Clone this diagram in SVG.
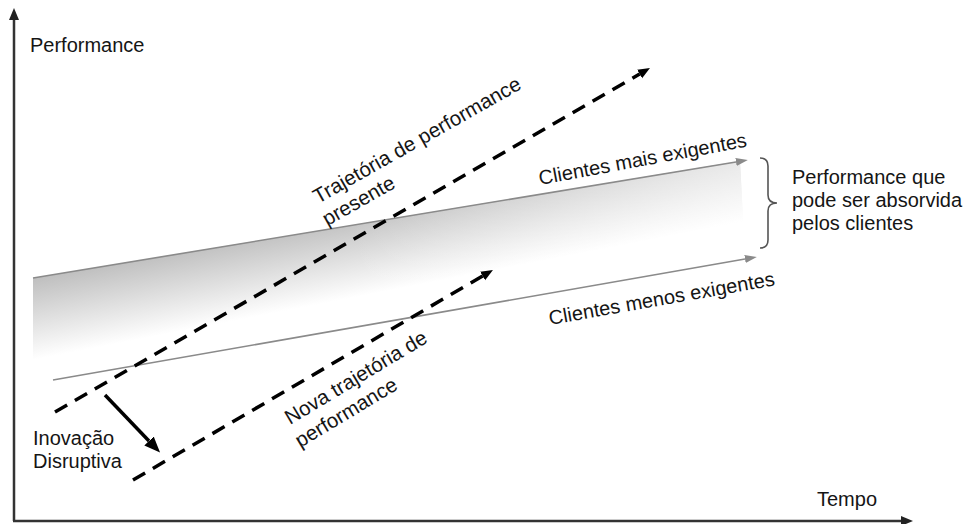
<svg xmlns="http://www.w3.org/2000/svg" width="971" height="524" viewBox="0 0 971 524">
<style>
text{font-family:"Liberation Sans",Arial,sans-serif;font-size:20px;fill:#151515}
.axis{stroke:#333;stroke-width:2.5;fill:none}
.gray{stroke:#8a8a8a;stroke-width:1.6;fill:none}
.dash{stroke:#000;stroke-width:3.5;stroke-dasharray:14 9;fill:none}
</style>
<defs>
<linearGradient id="band" gradientUnits="userSpaceOnUse" x1="33" y1="280" x2="48" y2="357">
<stop offset="0" stop-color="#c0c0c0"/>
<stop offset="1" stop-color="#ffffff"/>
</linearGradient>
<linearGradient id="fade" gradientUnits="userSpaceOnUse" x1="350" y1="0" x2="745" y2="0">
<stop offset="0" stop-color="#fff" stop-opacity="0"/>
<stop offset="1" stop-color="#fff" stop-opacity="0.55"/>
</linearGradient>
<marker id="ax" markerUnits="userSpaceOnUse" markerWidth="14" markerHeight="12" refX="0" refY="5" orient="auto"><path d="M0,0 L12,5 L0,10 z" fill="#222"/></marker>
<marker id="ga" markerUnits="userSpaceOnUse" markerWidth="14" markerHeight="10" refX="0" refY="4" orient="auto"><path d="M0,0 L12,4 L0,8 z" fill="#8a8a8a"/></marker>
<marker id="da" markerUnits="userSpaceOnUse" markerWidth="14" markerHeight="12" refX="0" refY="5" orient="auto"><path d="M0,0 L12,5 L0,10 z" fill="#000"/></marker>
<marker id="ba" markerUnits="userSpaceOnUse" markerWidth="18" markerHeight="14" refX="0" refY="6.5" orient="auto"><path d="M0,0 L16,6.5 L0,13 z" fill="#000"/></marker>
</defs>
<rect width="971" height="524" fill="#fff"/>
<g id="band-area">
<polygon points="33,278 740,161 745,257 53,380 33,380" fill="url(#band)"/>
<polygon points="33,278 740,161 745,257 53,380 33,380" fill="url(#fade)"/>
</g>
<g id="connectors">
<line class="axis" x1="14" y1="521" x2="14" y2="20" marker-end="url(#ax)"/>
<line class="axis" x1="13" y1="521" x2="901" y2="521" marker-end="url(#ax)"/>
<line class="gray" x1="33" y1="278" x2="736" y2="162" marker-end="url(#ga)"/>
<line class="gray" x1="53" y1="380" x2="745" y2="259" marker-end="url(#ga)"/>
<line class="dash" x1="55" y1="412" x2="639.6" y2="74" marker-end="url(#da)"/>
<line class="dash" x1="133" y1="480" x2="482.6" y2="276" marker-end="url(#da)"/>
<line x1="105" y1="395" x2="149" y2="441" stroke="#000" stroke-width="3.5" marker-end="url(#ba)"/>
<path d="M760,158 Q768,158 768,166 L768,195 Q768,203 777,203 Q768,203 768,211 L768,240 Q768,248 760,248" stroke="#555" stroke-width="1.6" fill="none"/>
</g>
<g id="label-performance"><text x="30" y="52">Performance</text></g>
<g id="label-tempo"><text x="817" y="506">Tempo</text></g>
<g id="label-absorvida">
<text x="792" y="184">Performance que</text>
<text x="792" y="207">pode ser absorvida</text>
<text x="792" y="230">pelos clientes</text>
</g>
<g id="label-inovacao">
<text x="33" y="445">Inovação</text>
<text x="33" y="468">Disruptiva</text>
</g>
<g id="label-trajetoria-presente" transform="translate(318,204) rotate(-29.5)">
<text x="0" y="0" style="font-size:20.5px">Trajetória de performance</text>
<text x="-3" y="24" style="font-size:20.5px">presente</text>
</g>
<g id="label-nova-trajetoria" transform="translate(290,425) rotate(-31)">
<text x="0" y="0" style="font-size:20.5px">Nova trajetória de</text>
<text x="-3" y="25" style="font-size:20.5px">performance</text>
</g>
<g id="label-mais-exigentes" transform="translate(540,185) rotate(-10.5)">
<text x="0" y="0">Clientes mais exigentes</text>
</g>
<g id="label-menos-exigentes" transform="translate(550,325) rotate(-10)">
<text x="0" y="0">Clientes menos exigentes</text>
</g>
</svg>
